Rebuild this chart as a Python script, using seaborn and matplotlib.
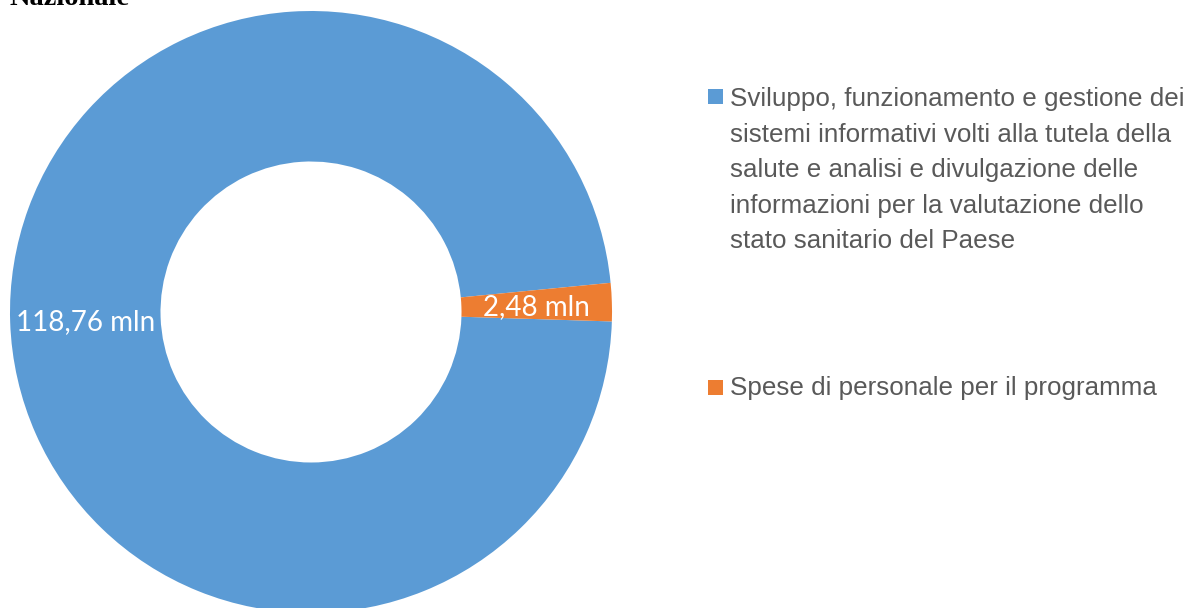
import numpy as np
import matplotlib
matplotlib.use("Agg")
import matplotlib.pyplot as plt
import seaborn as sns
from matplotlib import font_manager
from matplotlib.patches import Rectangle

categories = [
    "Sviluppo, funzionamento e gestione dei\nsistemi informativi volti alla tutela della\n"
    "salute e analisi e divulgazione delle\ninformazioni per la valutazione dello\n"
    "stato sanitario del Paese",
    "Spese di personale per il programma",
]
values = [118.76, 2.48]
value_labels = ["118,76 mln", "2,48 mln"]
colors = ["#5B9BD5", "#ED7D31"]
title = "Nazionale"

sns.set_theme(style="white")

# pick fonts close to the Office look
names = {f.name for f in font_manager.fontManager.ttflist}
if "Liberation Sans Narrow" in names:
    legend_font, legend_size, legend_ls = "Liberation Sans Narrow", 20.5, 1.4
else:
    legend_font, legend_size, legend_ls = "Liberation Sans", 18.7, 1.6
label_font, label_size = "Lato", 20

W, H = 1190, 608
fig = plt.figure(figsize=(W / 100, H / 100), dpi=100)

# donut: centre and radius in pixels
cx, cy, r = 311, 312, 301
ax = fig.add_axes([(cx - r) / W, (H - cy - r) / H, 2 * r / W, 2 * r / H])
wedges, _ = ax.pie(values, colors=colors, startangle=-1.8, counterclock=False,
                   radius=1, wedgeprops=dict(width=0.5, edgecolor="none"))
for w in wedges:
    w.set_clip_on(False)
ax.set_xlim(-1, 1)
ax.set_ylim(-1, 1)
ax.axis("off")

# data labels in the middle of each slice
for w, lab in zip(wedges, value_labels):
    mid = np.deg2rad((w.theta1 + w.theta2) / 2)
    ax.text(0.75 * np.cos(mid), 0.75 * np.sin(mid) - 0.008, lab, color="white",
            ha="center", va="center", fontsize=label_size, family=label_font)

# partially cut title at the top
fig.text(10 / W, 1 - 5 / H, title, family="Liberation Serif", weight="bold",
         fontsize=20.5, va="baseline", ha="left", color="black")

# legend drawn by hand: square top and baseline of the last text line
square_top = [89, 380]
last_baseline = [248, 395]
for lab, col, st, yb in zip(categories, colors, square_top, last_baseline):
    fig.patches.append(Rectangle((708 / W, 1 - (st + 15) / H), 15 / W, 15 / H,
                                 transform=fig.transFigure, color=col, lw=0))
    fig.text(730 / W, 1 - yb / H, lab, family=legend_font, fontsize=legend_size,
             color="#595959", va="baseline", ha="left", linespacing=legend_ls)

fig.savefig("out.png", dpi=100)
